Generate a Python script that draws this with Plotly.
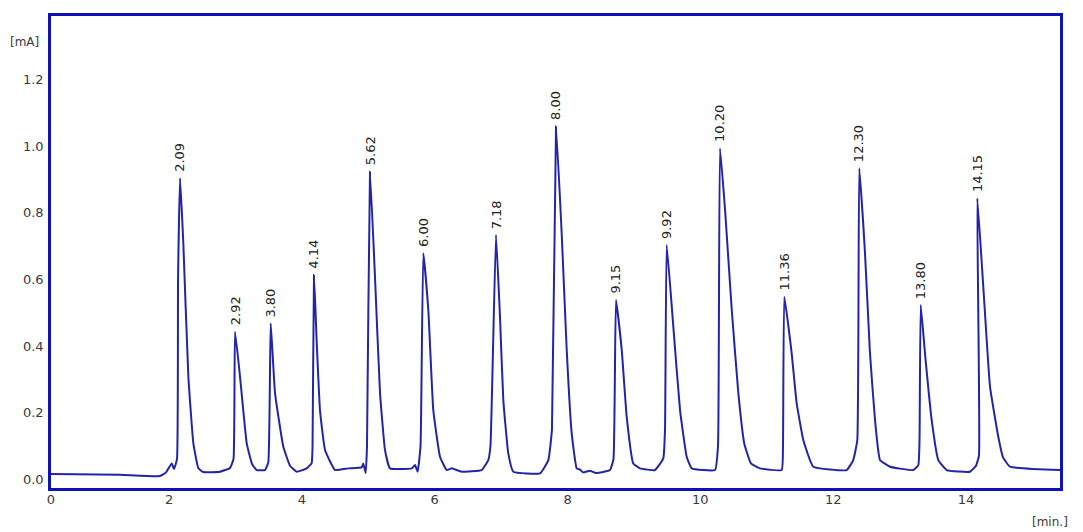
import plotly.graph_objects as go

# Chromatogram trace: time [min] and signal [mA]
trace_time = [
    0.223, 1.262, 1.864, 1.955, 2.041, 2.075, 2.120, 2.136, 2.166, 2.215, 2.291, 2.366, 2.441, 2.512,
    2.768, 2.918, 2.971, 2.994, 3.069, 3.170, 3.250, 3.320, 3.445, 3.495, 3.531, 3.596, 3.721, 3.822,
    3.923, 4.073, 4.148, 4.161, 4.183, 4.224, 4.273, 4.349, 4.499, 4.699, 4.901, 4.925, 4.961, 4.981,
    5.026, 5.101, 5.177, 5.252, 5.327, 5.654, 5.704, 5.744, 5.787, 5.829, 5.904, 5.979, 6.080, 6.181,
    6.256, 6.407, 6.708, 6.807, 6.840, 6.923, 6.983, 7.033, 7.108, 7.184, 7.586, 7.711, 7.766, 7.827,
    7.912, 7.988, 8.063, 8.138, 8.188, 8.234, 8.339, 8.429, 8.640, 8.692, 8.730, 8.816, 8.891, 8.990,
    9.091, 9.317, 9.442, 9.468, 9.493, 9.593, 9.694, 9.794, 9.870, 10.221, 10.266, 10.296, 10.372,
    10.473, 10.572, 10.661, 10.762, 10.897, 11.224, 11.244, 11.264, 11.375, 11.450, 11.550, 11.700,
    12.203, 12.302, 12.363, 12.393, 12.479, 12.554, 12.630, 12.705, 12.856, 13.206, 13.282, 13.300,
    13.318, 13.382, 13.483, 13.583, 13.709, 14.060, 14.150, 14.195, 14.170, 14.260, 14.361, 14.486,
    14.557, 14.662, 15.415,
]
trace_signal = [
    0.015, 0.013, 0.009, 0.020, 0.047, 0.030, 0.060, 0.600, 0.904, 0.710, 0.308, 0.108, 0.033, 0.021,
    0.022, 0.033, 0.060, 0.443, 0.308, 0.107, 0.045, 0.027, 0.027, 0.050, 0.468, 0.258, 0.097, 0.040,
    0.022, 0.032, 0.048, 0.100, 0.613, 0.410, 0.207, 0.087, 0.027, 0.032, 0.035, 0.047, 0.018, 0.100,
    0.924, 0.608, 0.258, 0.087, 0.032, 0.032, 0.042, 0.022, 0.100, 0.679, 0.508, 0.207, 0.067, 0.027,
    0.032, 0.022, 0.027, 0.057, 0.100, 0.734, 0.488, 0.238, 0.077, 0.022, 0.017, 0.057, 0.150, 1.060,
    0.739, 0.388, 0.137, 0.032, 0.028, 0.020, 0.025, 0.018, 0.027, 0.060, 0.538, 0.388, 0.187, 0.047,
    0.032, 0.027, 0.062, 0.150, 0.704, 0.458, 0.207, 0.067, 0.032, 0.027, 0.100, 0.994, 0.809,
    0.508, 0.258, 0.107, 0.047, 0.032, 0.027, 0.100, 0.548, 0.378, 0.228, 0.117, 0.037,
    0.027, 0.057, 0.117, 0.934, 0.679, 0.378, 0.177, 0.057, 0.037, 0.027, 0.042, 0.120,
    0.523, 0.378, 0.177, 0.057, 0.027, 0.022, 0.040, 0.070, 0.844, 0.578, 0.278, 0.127,
    0.065, 0.037, 0.027,
]

# Peak labels (as printed) and the apex each label sits on
peak_labels = ["2.09", "2.92", "3.80", "4.14", "5.62", "6.00", "7.18", "8.00",
               "9.15", "9.92", "10.20", "11.36", "12.30", "13.80", "14.15"]
peak_time = [2.166, 2.994, 3.531, 4.183, 5.026, 5.829, 6.923, 7.827,
             8.730, 9.493, 10.296, 11.264, 12.393, 13.318, 14.170]
peak_height = [0.904, 0.443, 0.468, 0.613, 0.924, 0.679, 0.734, 1.060,
               0.538, 0.704, 0.994, 0.548, 0.934, 0.523, 0.844]

x_range = [0.223, 15.415]
y_range = [-0.027, 1.392]
x_tick_vals = [0.223, 2, 4, 6, 8, 10, 12, 14]
x_tick_text = ["0", "2", "4", "6", "8", "10", "12", "14"]
y_tick_vals = [0.0, 0.2, 0.4, 0.6, 0.8, 1.0, 1.2]
y_tick_text = ["0.0", "0.2", "0.4", "0.6", "0.8", "1.0", "1.2"]

FRAME = "#1010b8"
LINE = "#2424a8"
TXT = "#3a3a3a"
FONT = "DejaVu Sans"

fig = go.Figure()
fig.add_trace(go.Scatter(x=trace_time, y=trace_signal, mode="lines",
                         line=dict(color=LINE, width=2, shape="spline", smoothing=0.35),
                         hoverinfo="skip", showlegend=False))

for lab, xt, yh in zip(peak_labels, peak_time, peak_height):
    fig.add_annotation(x=xt, y=yh, text=lab, showarrow=False, textangle=-90,
                       xanchor="center", yanchor="bottom", yshift=4,
                       font=dict(family=FONT, size=13, color="#222222"))

fig.add_annotation(xref="paper", yref="paper", x=-0.026, y=0.945, text="[mA]",
                   showarrow=False, xanchor="center", yanchor="middle",
                   font=dict(family=FONT, size=12, color=TXT))
fig.add_annotation(xref="paper", yref="paper", x=0.99, y=-0.072, text="[min.]",
                   showarrow=False, xanchor="center", yanchor="middle",
                   font=dict(family=FONT, size=12, color=TXT))

fig.update_xaxes(range=x_range, tickvals=x_tick_vals, ticktext=x_tick_text,
                 showgrid=False, zeroline=False, showline=True, mirror=True,
                 linecolor=FRAME, linewidth=2.5, ticks="", ticklabelstandoff=-2,
                 tickfont=dict(family=FONT, size=13, color=TXT))
fig.update_yaxes(range=y_range, tickvals=y_tick_vals, ticktext=y_tick_text,
                 showgrid=False, zeroline=False, showline=True, mirror=True,
                 linecolor=FRAME, linewidth=2.5, ticks="", ticklabelstandoff=2,
                 tickfont=dict(family=FONT, size=13, color=TXT))

fig.update_layout(width=1083, height=532, margin=dict(l=51, r=23, t=16, b=44),
                  plot_bgcolor="white", paper_bgcolor="white")

fig.write_html("out.html", config={"displayModeBar": False},
               post_script="document.body.style.margin='0px';document.body.style.overflow='hidden';")
